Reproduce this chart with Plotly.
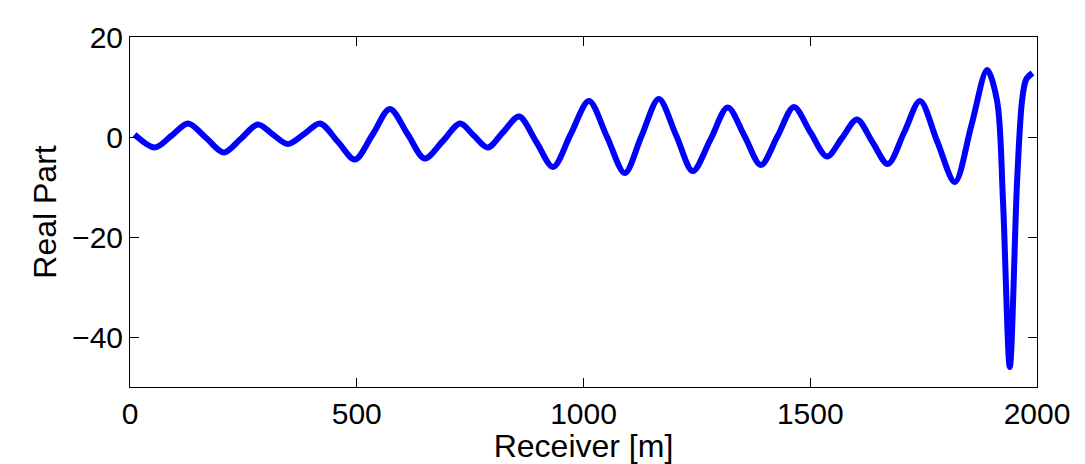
import plotly.graph_objects as go

receiver_m = [10, 55, 92, 128, 168, 207, 245, 282, 315, 348, 384, 419, 458, 496, 535, 573,
              612, 650, 690, 728, 758, 789, 823, 858, 896, 933, 972, 1012, 1052, 1091, 1128,
              1166, 1204, 1241, 1280, 1318, 1355, 1391, 1428, 1464, 1500, 1537, 1570, 1603,
              1637, 1671, 1707, 1742, 1780, 1819, 1855, 1890, 1912, 1925, 1940, 1956, 1967,
              1976, 1990]
real_part = [0.5, -2.1, 0.3, 2.7, -0.2, -3.1, -0.3, 2.5, 0.5, -1.4, 0.6, 2.7, -0.9, -4.5, 0.5, 5.6,
             0.6, -4.3, -0.8, 2.7, 0.3, -2.1, 1.0, 4.1, -1.0, -6.0, 0.6, 7.2, 0.0, -7.2, 0.2,
             7.6, 0.4, -6.8, -0.5, 5.9, 0.2, -5.6, 0.2, 6.0, 1.0, -3.9, -0.2, 3.5, -1.0,
             -5.4, 0.9, 7.2, -0.9, -9.0, 2.2, 13.4, 7.2, -12.8, -46.0, -9.0, 7.2,
             11.5, 12.8]

x_ticks = [0, 500, 1000, 1500, 2000]
y_ticks = [20, 0, -20, -40]
y_tick_text = ["20", "0", "\u221220", "\u221240"]

fig = go.Figure()
fig.add_trace(go.Scatter(x=receiver_m, y=real_part, mode="lines",
                         line=dict(color="#0000FF", width=6, shape="spline", smoothing=0.9),
                         showlegend=False))

family = "Liberation Sans, Arial, Helvetica, sans-serif"
tick_font = dict(family=family, size=30, color="black")
title_font = dict(family=family, size=32, color="black")
axis_common = dict(showline=True, linecolor="black", linewidth=1, mirror="ticks",
                   ticks="inside", ticklen=9, tickcolor="black", showgrid=False,
                   zeroline=False, tickfont=tick_font)
# page body has an 8px default margin; compensate so the plot area lands at the same pixels
fig.update_layout(
    width=1077, height=456,
    margin=dict(l=122, r=48, t=24, b=76),
    paper_bgcolor="white", plot_bgcolor="white",
    font=tick_font,
    xaxis=dict(range=[0, 2000], tickvals=x_ticks,
               title=dict(text="Receiver [m]", font=title_font, standoff=0), **axis_common),
    yaxis=dict(range=[-50, 20], tickvals=y_ticks, ticktext=y_tick_text,
               title=dict(text="Real Part", font=title_font, standoff=5), **axis_common),
)
fig.write_html("out.html")
